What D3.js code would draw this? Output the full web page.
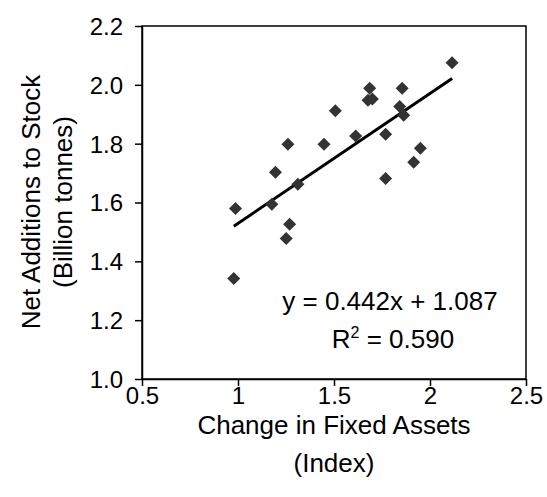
<!DOCTYPE html>
<html>
<head>
<meta charset="utf-8">
<script src="https://cdn.jsdelivr.net/npm/d3@7"></script>
<style>
  body { margin: 0; background: #fff; }
  text { font-family: "Liberation Sans", Arial, sans-serif; fill: #000; }
</style>
</head>
<body>
<div id="chart"></div>
<script>
// change in fixed assets (index) vs net additions to stock (billion tonnes)
var assetChange = [2.115, 1.686, 1.855, 1.677, 1.700, 1.507, 1.842, 1.863, 1.613, 1.769, 1.260,
                   1.448, 1.950, 1.915, 1.195, 1.769, 1.312, 0.987, 1.176, 1.269, 1.251, 0.978];
var stockAdd    = [2.075, 1.988, 1.988, 1.948, 1.952, 1.912, 1.926, 1.897, 1.826, 1.832, 1.798,
                   1.798, 1.784, 1.737, 1.703, 1.682, 1.662, 1.580, 1.594, 1.526, 1.478, 1.342];
var xTicks = [0.5, 1, 1.5, 2, 2.5];
var yTicks = [1.0, 1.2, 1.4, 1.6, 1.8, 2.0, 2.2];
var slope = 0.442, intercept = 1.087, r2 = 0.590;

var w = 547, h = 497;
var margin = {top: 26, right: 21, bottom: 118, left: 142};
var fs = 26, tickFs = 24;

var svg = d3.select("#chart").append("svg")
    .attr("width", w)
    .attr("height", h);

var x = d3.scaleLinear().domain([0.5, 2.5]).range([margin.left, w - margin.right]);
var y = d3.scaleLinear().domain([1.0, 2.2]).range([h - margin.bottom, margin.top]);

// plot frame
svg.append("rect")
    .attr("x", x(0.5))
    .attr("y", y(2.2))
    .attr("width", x(2.5) - x(0.5))
    .attr("height", y(1.0) - y(2.2))
    .attr("fill", "none")
    .attr("stroke", "#000")
    .attr("stroke-width", 1.5);

var xAxis = svg.append("g")
    .attr("transform", "translate(0," + y(1.0) + ")")
    .call(d3.axisBottom(x).tickValues(xTicks).tickSize(7).tickSizeOuter(0)
        .tickFormat(function(d){ return d3.format("")(d); }));

var yAxis = svg.append("g")
    .attr("transform", "translate(" + x(0.5) + ",0)")
    .call(d3.axisLeft(y).tickValues(yTicks).tickSize(7).tickSizeOuter(0)
        .tickFormat(d3.format(".1f")));

[xAxis, yAxis].forEach(function(a){
    a.select(".domain").attr("stroke-width", 1.5);
    a.selectAll(".tick line").attr("stroke-width", 1.5);
    a.selectAll(".tick text").attr("font-size", tickFs).attr("font-family", "Liberation Sans, Arial, sans-serif").attr("fill", "#000");
});
xAxis.selectAll(".tick text").attr("y", 25).attr("dy", null);
yAxis.selectAll(".tick text").attr("x", -19).attr("dy", "0.35em");

// trend line
var xr = d3.extent(assetChange);
svg.append("line")
    .attr("x1", x(xr[0])).attr("y1", y(slope * xr[0] + intercept))
    .attr("x2", x(xr[1])).attr("y2", y(slope * xr[1] + intercept))
    .attr("stroke", "#000")
    .attr("stroke-width", 3);

// diamond markers
var pts = assetChange.map(function(d, i){ return [d, stockAdd[i]]; });
svg.selectAll("path.pt")
    .data(pts)
    .enter()
    .append("path")
    .attr("class", "pt")
    .attr("d", function(d){
        var cx = x(d[0]), cy = y(d[1]), r = 6.5;
        return "M" + cx + "," + (cy - r) + "L" + (cx + r) + "," + cy +
               "L" + cx + "," + (cy + r) + "L" + (cx - r) + "," + cy + "Z";
    })
    .attr("fill", "#333");

// equation labels
svg.append("text")
    .attr("x", 390).attr("y", 310)
    .attr("text-anchor", "middle")
    .attr("font-size", fs)
    .text("y = " + slope.toFixed(3) + "x + " + intercept.toFixed(3));

var rt = svg.append("text")
    .attr("x", 393).attr("y", 348)
    .attr("text-anchor", "middle")
    .attr("font-size", fs);
rt.append("tspan").text("R");
rt.append("tspan").attr("font-size", 16).attr("dy", -10).text("2");
rt.append("tspan").attr("dy", 10).text(" = " + r2.toFixed(3));

// axis titles
var xt = svg.append("text")
    .attr("text-anchor", "middle")
    .attr("font-size", fs);
xt.append("tspan").attr("x", x(1.5)).attr("y", 434).text("Change in Fixed Assets");
xt.append("tspan").attr("x", x(1.5)).attr("y", 472).text("(Index)");

var yt = svg.append("text")
    .attr("text-anchor", "middle")
    .attr("font-size", fs)
    .attr("transform", "translate(40,202) rotate(-90)");
yt.append("tspan").attr("x", 0).attr("y", 0).text("Net Additions to Stock");
yt.append("tspan").attr("x", 0).attr("y", 32).text("(Billion tonnes)");
</script>
</body>
</html>
